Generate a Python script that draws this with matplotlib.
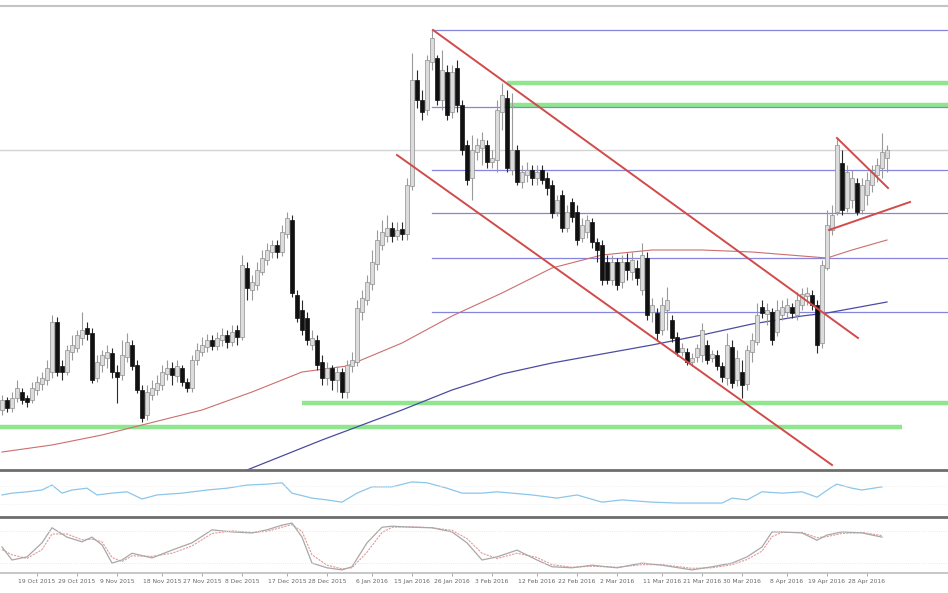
"""Daily candles with channel, fib levels and two oscillators."""
import numpy as np
import matplotlib
matplotlib.use("Agg")
import matplotlib.pyplot as plt

# candle prices (arbitrary price units), one per bar
opens = [90, 100, 92, 102, 108, 102, 100, 110, 116, 120,
         128, 178, 134, 128, 148, 152, 162, 172, 167, 122,
         135, 142, 147, 128, 125, 143, 155, 135, 110, 85,
         105, 110, 115, 126, 132, 124, 132, 118, 112, 140,
         148, 153, 160, 154, 160, 165, 158, 170, 163, 232,
         210, 215, 228, 240, 248, 255, 248, 266, 280, 205,
         190, 182, 155, 160, 138, 122, 132, 120, 128, 108,
         134, 138, 188, 200, 216, 236, 255, 264, 272, 264,
         271, 266, 314, 420, 400, 390, 438, 442, 400, 428,
         388, 432, 395, 355, 322, 348, 352, 355, 338, 340,
         388, 402, 330, 350, 318, 325, 330, 322, 330, 322,
         315, 288, 305, 272, 298, 288, 262, 268, 278, 258,
         255, 238, 220, 238, 218, 238, 228, 232, 210, 242,
         188, 187, 170, 190, 180, 163, 148, 148, 138, 143,
         145, 155, 142, 145, 134, 122, 153, 120, 128, 116,
         148, 158, 193, 186, 188, 168, 185, 188, 193, 185,
         195, 204, 205, 195, 157, 232, 270, 288, 337, 292,
         300, 317, 290, 305, 315, 325, 332, 342]
closes = [100, 92, 102, 112, 100, 98, 112, 118, 122, 132,
          178, 128, 128, 150, 155, 165, 170, 166, 120, 138,
          145, 148, 128, 123, 145, 158, 134, 110, 82, 108,
          112, 117, 128, 132, 125, 134, 118, 112, 140, 150,
          155, 160, 154, 162, 165, 158, 168, 163, 235, 212,
          218, 230, 242, 250, 255, 248, 268, 282, 207, 182,
          170, 160, 162, 135, 122, 132, 120, 128, 108, 135,
          140, 192, 202, 218, 238, 260, 268, 272, 264, 270,
          266, 315, 420, 400, 388, 440, 462, 400, 430, 385,
          428, 395, 350, 320, 350, 355, 360, 338, 342, 390,
          405, 332, 350, 318, 328, 330, 322, 328, 320, 312,
          287, 300, 272, 288, 283, 260, 275, 280, 258, 250,
          220, 220, 238, 215, 238, 230, 240, 222, 245, 185,
          195, 167, 195, 200, 162, 148, 152, 138, 142, 152,
          170, 140, 146, 134, 123, 155, 117, 142, 115, 150,
          160, 185, 187, 190, 160, 190, 193, 195, 187, 200,
          206, 207, 195, 155, 235, 275, 285, 355, 290, 328,
          322, 288, 315, 320, 328, 335, 348, 350]
highs = [105, 103, 108, 120, 112, 105, 118, 124, 128, 140,
         185, 183, 140, 155, 165, 170, 188, 178, 172, 145,
         150, 155, 152, 135, 160, 167, 160, 140, 115, 115,
         120, 125, 135, 140, 138, 140, 135, 122, 145, 157,
         163, 166, 165, 168, 172, 170, 175, 175, 245, 238,
         225, 238, 250, 257, 260, 260, 275, 288, 285, 210,
         200, 188, 170, 165, 145, 138, 135, 134, 132, 140,
         148, 200, 210, 225, 250, 270, 280, 285, 278, 278,
         278, 322, 447, 430, 410, 445, 470, 445, 450, 435,
         435, 440, 400, 360, 365, 362, 368, 360, 350, 400,
         417, 410, 407, 355, 335, 338, 335, 335, 335, 328,
         320, 305, 310, 295, 302, 295, 282, 285, 282, 262,
         260, 245, 245, 242, 245, 247, 248, 240, 257, 248,
         202, 192, 203, 213, 185, 168, 157, 152, 147, 156,
         177, 160, 150, 150, 138, 167, 160, 150, 140, 155,
         167, 197, 200, 197, 192, 200, 200, 202, 197, 208,
         212, 213, 210, 200, 240, 290, 295, 362, 350, 335,
         330, 322, 322, 328, 335, 342, 367, 355]
lows = [85, 88, 88, 98, 96, 93, 97, 105, 110, 115,
        122, 124, 120, 125, 140, 148, 155, 160, 117, 118,
        128, 132, 122, 97, 120, 138, 130, 107, 78, 80,
        100, 105, 110, 120, 115, 118, 114, 108, 108, 135,
        144, 148, 150, 150, 154, 152, 154, 155, 160, 200,
        200, 210, 225, 235, 242, 242, 244, 262, 203, 178,
        165, 155, 150, 130, 115, 115, 110, 108, 102, 102,
        128, 134, 180, 195, 210, 230, 250, 258, 258, 260,
        260, 260, 310, 392, 380, 385, 430, 395, 390, 380,
        382, 388, 345, 315, 300, 340, 335, 332, 332, 328,
        370, 328, 325, 315, 312, 318, 315, 315, 316, 305,
        282, 284, 268, 268, 278, 255, 258, 262, 252, 238,
        215, 216, 215, 210, 212, 220, 220, 215, 205, 180,
        178, 160, 165, 170, 158, 144, 144, 135, 134, 138,
        138, 136, 138, 130, 118, 115, 112, 114, 102, 110,
        138, 155, 182, 175, 155, 164, 180, 182, 182, 180,
        190, 195, 190, 147, 152, 230, 265, 285, 285, 288,
        292, 285, 286, 295, 308, 318, 322, 328]

# moving averages read at a few bars
ma_red_idx = [0, 10, 20, 28, 40, 50, 60, 69, 80, 90, 100, 110, 120, 130, 140, 150, 160, 165, 170, 177]
ma_red = [48, 55, 65, 75, 90, 108, 128, 134, 157, 184, 207, 232, 245, 250, 250, 248, 244, 242, 250, 260]
ma_blue_idx = [49, 64, 80, 90, 100, 110, 120, 130, 140, 150, 160, 165, 177]
ma_blue = [30, 60, 90, 110, 126, 137, 146, 155, 165, 176, 184, 187, 198]

# drawn objects
fib_levels = [470, 393, 330, 287, 242, 188]
fib_start = 86
green_zones = [(417, 101, 190), (395, 100, 190), (97, 60, 190), (73, -1, 180)]
last_price = 350
channel_lines = [((86.2, 470), (171.2, 162)),
                 ((79.0, 345), (166.0, 35)),
                 ((167.0, 362), (177.2, 312)),
                 ((165.4, 270), (181.6, 298))]

# oscillator 1
osc1_idx = [0, 2, 5, 8, 10, 12, 14, 17, 19, 22, 25, 28, 31, 36, 41, 45, 49, 53, 56, 58,
            62, 65, 68, 71, 74, 78, 82, 85, 89, 92, 96, 99, 106, 111, 115, 120, 124, 130,
            135, 140, 144, 146, 149, 152, 156, 160, 163, 166, 167, 170, 172, 176]
osc1 = [49, 53, 56, 60, 71, 53, 60, 64, 49, 53, 56, 40, 49, 53, 60, 64, 71, 73, 76, 53,
        42, 38, 33, 53, 67, 67, 78, 76, 64, 53, 53, 56, 49, 42, 49, 33, 38, 33,
        31, 31, 31, 42, 38, 56, 53, 56, 44, 67, 73, 64, 60, 67]

# oscillator 2 (stochastic style)
osc2_idx = [0, 2, 5, 8, 10, 13, 16, 18, 20, 22, 24, 26, 30, 34, 38, 42, 46, 50, 53, 56,
            58, 60, 62, 65, 68, 70, 73, 76, 78, 82, 86, 90, 93, 96, 99, 103, 107, 110,
            114, 118, 123, 128, 132, 138, 142, 146, 149, 152, 154, 156, 160, 163, 165,
            168, 172, 176]
osc2_main = [50, 25, 31, 58, 87, 69, 60, 69, 54, 19, 25, 38, 29, 44, 58, 83, 79, 77, 83, 92,
             96, 69, 19, 10, 6, 12, 58, 88, 90, 88, 87, 79, 58, 25, 31, 44, 25, 12,
             10, 15, 10, 19, 15, 6, 12, 19, 31, 50, 79, 79, 77, 63, 73,
             79, 77, 69]
osc2_signal = [45, 35, 28, 45, 75, 75, 64, 65, 60, 30, 22, 33, 32, 38, 52, 76, 81, 78, 80, 88,
               93, 80, 35, 15, 8, 10, 40, 78, 88, 89, 87, 82, 66, 38, 28, 38, 30, 16,
               11, 13, 11, 16, 16, 9, 10, 16, 26, 42, 70, 78, 78, 68, 70,
               76, 78, 72]

tick_idx = [7, 15, 23, 32, 40, 48, 57, 65, 74, 82, 90, 98, 107, 115, 123, 132, 140, 148, 157, 165, 173]
tick_labels = ["19 Oct 2015", "29 Oct 2015", "9 Nov 2015", "18 Nov 2015", "27 Nov 2015",
               "8 Dec 2015", "17 Dec 2015", "28 Dec 2015", "6 Jan 2016", "15 Jan 2016",
               "26 Jan 2016", "3 Feb 2016", "12 Feb 2016", "22 Feb 2016", "2 Mar 2016",
               "11 Mar 2016", "21 Mar 2016", "30 Mar 2016", "8 Apr 2016", "19 Apr 2016",
               "28 Apr 2016"]


def main() -> None:
    W, H = 948, 593
    fig = plt.figure(figsize=(W / 100, H / 100), dpi=100)

    def frac(top, bottom):
        return [0, 1 - bottom / H, 1, (bottom - top) / H]

    ax = fig.add_axes(frac(6, 470))
    ax1 = fig.add_axes(frac(472, 517), sharex=ax)
    ax2 = fig.add_axes(frac(521, 573), sharex=ax)

    o = np.array(opens, float)
    c = np.array(closes, float)
    hi = np.array(highs, float)
    lo = np.array(lows, float)
    x = np.arange(len(c))
    up = c >= o

    # reference lines under the candles
    ax.axhline(last_price, color="#d4d4d4", lw=1.0, zorder=1)
    for lvl, x0, x1 in green_zones:
        ax.plot([x0, x1], [lvl, lvl], color="#8ee68e", lw=3.2, solid_capstyle="butt", zorder=1)
    for lvl in fib_levels:
        ax.plot([fib_start, 190], [lvl, lvl], color="#8585dc", lw=0.9, zorder=1.5)
    ax.plot(ma_red_idx, ma_red, color="#cc6e6e", lw=0.8, zorder=2)
    ax.plot(ma_blue_idx, ma_blue, color="#4c4ca0", lw=0.9, zorder=2)

    # candles
    ax.vlines(x, lo, hi, colors=np.where(up, "#9a9a9a", "#2a2a2a"), lw=0.8, zorder=3)
    body = np.maximum(np.abs(c - o), 1.2)
    ax.bar(x, body, bottom=np.minimum(o, c), width=0.62,
           color=np.where(up, "#dcdcdc", "#111111"),
           edgecolor=np.where(up, "#8e8e8e", "#111111"), linewidth=0.5, zorder=4)

    for (xa, ya), (xb, yb) in channel_lines:
        ax.plot([xa, xb], [ya, yb], color="#d24a4a", lw=1.4, zorder=5)

    ax.set_xlim(-0.4, 189.2)
    ax.set_ylim(30, 494)

    # oscillator panels
    ax1.plot(osc1_idx, osc1, color="#8cc6ea", lw=0.9)
    for lvl in (70, 30):
        ax1.axhline(lvl, color="#eeeeee", lw=0.6, ls=":")
    ax1.set_ylim(0, 100)

    ax2.plot(osc2_idx, osc2_signal, color="#e59a9a", lw=0.8, ls=(0, (2, 1)))
    ax2.plot(osc2_idx, osc2_main, color="#a8a8a8", lw=0.9)
    for lvl in (80, 20):
        ax2.axhline(lvl, color="#f2dede", lw=0.6, ls=":")
    ax2.set_ylim(0, 100)

    for a in (ax, ax1, ax2):
        a.set_yticks([])
        a.spines["left"].set_visible(False)
        a.spines["right"].set_visible(False)
        a.set_facecolor("white")
    ax.spines["top"].set_color("#c4c4c4")
    ax.spines["top"].set_linewidth(1.5)
    ax.spines["bottom"].set_color("#6e6e6e")
    ax.spines["bottom"].set_linewidth(2.0)
    ax1.spines["top"].set_visible(False)
    ax1.spines["bottom"].set_color("#6e6e6e")
    ax1.spines["bottom"].set_linewidth(2.0)
    ax2.spines["top"].set_visible(False)
    ax2.spines["bottom"].set_color("#bdbdbd")
    ax2.spines["bottom"].set_linewidth(1.2)

    ax.tick_params(axis="x", bottom=False, labelbottom=False)
    ax1.tick_params(axis="x", bottom=False, labelbottom=False)
    ax2.set_xticks(tick_idx)
    ax2.set_xticklabels(tick_labels)
    ax2.tick_params(axis="x", length=2, width=0.6, color="#999999", pad=2,
                    labelsize=4.3, labelcolor="#666666")

    fig.savefig("out.png", dpi=100, facecolor="white")


if __name__ == "__main__":
    main()
